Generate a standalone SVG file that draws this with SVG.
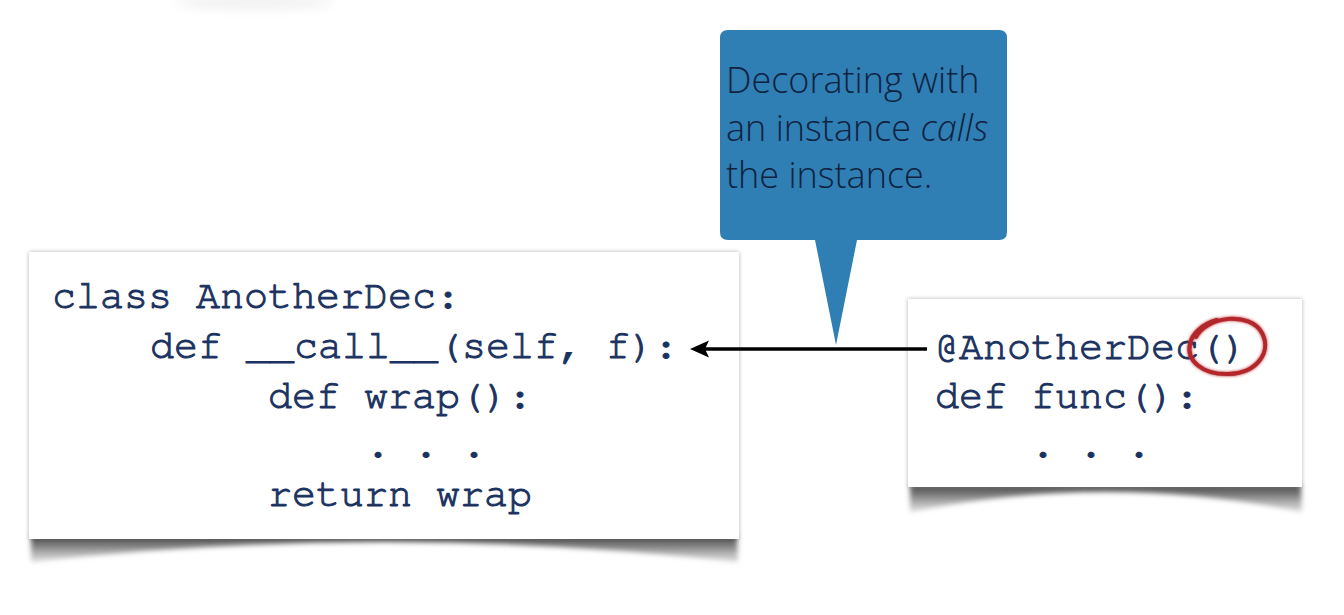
<svg xmlns="http://www.w3.org/2000/svg" width="1344" height="615" viewBox="0 0 1344 615">
  <defs>
    <filter id="edge" x="-5%" y="-5%" width="110%" height="110%">
      <feGaussianBlur in="SourceAlpha" stdDeviation="2"/>
      <feOffset dx="0" dy="0" result="b"/>
      <feComponentTransfer><feFuncA type="linear" slope="0.3"/></feComponentTransfer>
      <feMerge><feMergeNode/><feMergeNode in="SourceGraphic"/></feMerge>
    </filter>
    <filter id="curl" x="-10%" y="-50%" width="120%" height="200%">
      <feGaussianBlur stdDeviation="2.5"/>
    </filter>
    <filter id="soft" x="-50%" y="-50%" width="200%" height="200%">
      <feGaussianBlur stdDeviation="6"/>
    </filter>
    <filter id="glow" x="-20%" y="-20%" width="140%" height="140%">
      <feGaussianBlur in="SourceGraphic" stdDeviation="1.5" result="g"/>
      <feMerge><feMergeNode in="g"/><feMergeNode in="SourceGraphic"/></feMerge>
    </filter>
    <linearGradient id="shade" x1="0" y1="0" x2="0" y2="1">
      <stop offset="0" stop-color="#4a4a4a"/>
      <stop offset="0.35" stop-color="#7a7a7a"/>
      <stop offset="1" stop-color="#c8c8c8" stop-opacity="0.6"/>
    </linearGradient>
    <style>
      .code { font-family: "Nimbus Mono PS", "Nimbus Mono L", "FreeMono", "Courier New", Courier, "Liberation Mono", monospace; font-size: 40px; fill: #1b3260; stroke: #1b3260; stroke-width: 1; }
      .note { font-family: "Open Sans", "Noto Sans", sans-serif; font-size: 36px; font-weight: 300; fill: #0f2340; }
      .card { fill: #ffffff; }
    </style>
  </defs>

  <rect width="1344" height="615" fill="#ffffff"/>

  <!-- faint smear at top left -->
  <ellipse cx="255" cy="2" rx="80" ry="8" fill="#000" opacity="0.05" filter="url(#soft)"/>

  <!-- left code card -->
  <g id="class-card">
    <path d="M31,536 L737,536 L738,562 Q385,522 31,562 Z" fill="url(#shade)" filter="url(#curl)"/>
    <rect class="card" x="29" y="252" width="710" height="287" filter="url(#edge)"/>
    <text class="code" x="52" y="308">class AnotherDec:</text>
    <text class="code" x="150" y="358">def __call__(self, f):</text>
    <text class="code" x="268" y="408">def wrap():</text>
    <text class="code" x="366" y="457">. . .</text>
    <text class="code" x="268" y="506">return wrap</text>
  </g>

  <!-- right code card -->
  <g id="func-card">
    <path d="M910,485 L1301,485 L1302,512 Q1106,472 910,512 Z" fill="url(#shade)" filter="url(#curl)"/>
    <rect class="card" x="908" y="299" width="394" height="188" filter="url(#edge)"/>
    <text class="code" x="935" y="359">@AnotherDec()</text>
    <text class="code" x="935" y="408">def func():</text>
    <text class="code" x="1031" y="457">. . .</text>
    <path id="red-circle" d="M1196,337 C1207,316 1250,311 1262,333 C1272,352 1257,373 1229,374 C1203,375 1186,361 1190,344 C1192,334 1202,324 1217,320" fill="none" stroke="#b3262b" stroke-width="4" stroke-linecap="round" filter="url(#glow)"/>
  </g>

  <!-- callout -->
  <g id="callout">
    <path d="M728,30 L999,30 Q1007,30 1007,38 L1007,232 Q1007,240 999,240 L857,240 L836,345 L815,240 L728,240 Q720,240 720,232 L720,38 Q720,30 728,30 Z" fill="#2f7eb4"/>
    <text class="note" x="726" y="93">Decorating with</text>
    <text class="note" x="726" y="141">an instance <tspan font-style="italic">calls</tspan></text>
    <text class="note" x="726" y="188">the instance.</text>
  </g>

  <!-- connectors -->
  <g id="connectors">
    <line x1="927" y1="349" x2="704" y2="349" stroke="#000" stroke-width="3.5"/>
    <path d="M690,349 L709,340.5 L705,349 L709,357.5 Z" fill="#000"/>
  </g>
</svg>
